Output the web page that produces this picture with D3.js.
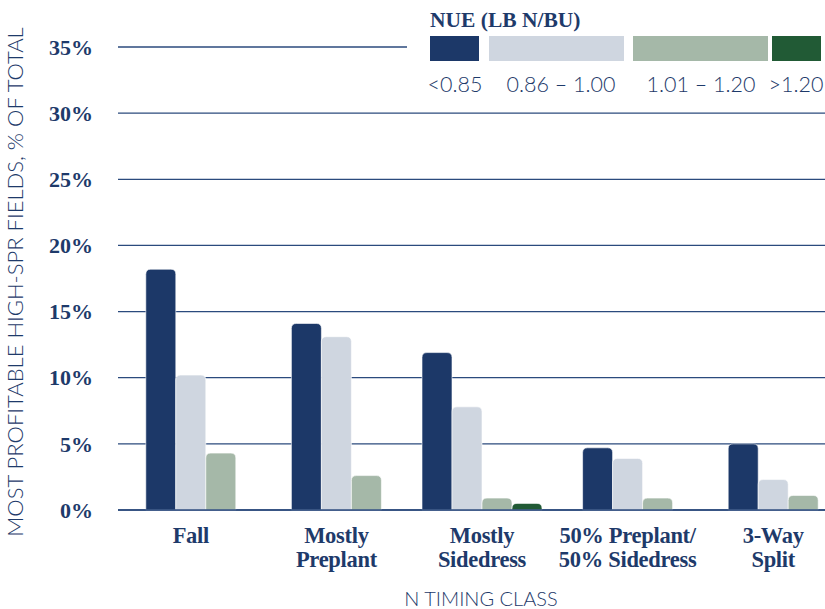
<!DOCTYPE html>
<html>
<head>
<meta charset="utf-8">
<script src="https://cdn.jsdelivr.net/npm/d3@7"></script>
<style>
    body { margin: 0; background: #fff; }
    svg { display: block; }
</style>
</head>
<body>
<div id="chart"></div>
<script>
// data
const categories = ["Fall", "Mostly Preplant", "Mostly Sidedress", "50% Preplant/ 50% Sidedress", "3-Way Split"];
const categoryLines = [["Fall"], ["Mostly", "Preplant"], ["Mostly", "Sidedress"], ["50% Preplant/", "50% Sidedress"], ["3-Way", "Split"]];
const seriesKeys = ["<0.85", "0.86 – 1.00", "1.01 – 1.20", ">1.20"];
const nueLow = [18.2, 14.1, 11.9, 4.7, 5.0];
const nueMid = [10.2, 13.1, 7.8, 3.9, 2.3];
const nueHigh = [4.3, 2.6, 0.9, 0.9, 1.1];
const nueVeryHigh = [null, null, 0.5, null, null];
const yTicks = [0, 5, 10, 15, 20, 25, 30, 35];

const seriesValues = [nueLow, nueMid, nueHigh, nueVeryHigh];
const colors = ["#1c3868", "#cfd6e0", "#a5b8a8", "#215a35"];
const textColor = "#1e3a6a";

const width = 825, height = 609;
const svg = d3.select("#chart").append("svg")
    .attr("width", width)
    .attr("height", height);

// scales
const x = d3.scaleBand()
    .domain(categories)
    .range([118, 846]);

const y = d3.scaleLinear()
    .domain([0, 35])
    .range([510, 47]);

const barWidth = 30;

// gridlines (top one is cut short by the legend)
svg.append("g").selectAll("line")
    .data(yTicks)
    .join("line")
    .attr("x1", 118)
    .attr("x2", d => d === 35 ? 407 : width)
    .attr("y1", d => y(d))
    .attr("y2", d => y(d))
    .attr("stroke", "#2b4a7d")
    .attr("stroke-width", 1.3);

// y tick labels
svg.append("g").selectAll("text")
    .data(yTicks)
    .join("text")
    .attr("x", 93)
    .attr("y", d => y(d))
    .attr("dy", "0.35em")
    .attr("text-anchor", "end")
    .attr("font-family", "Liberation Serif, serif")
    .attr("font-weight", "bold")
    .attr("font-size", 22)
    .attr("fill", textColor)
    .text(d => d + "%");

// build bar records, centring the bars that exist in each group
let bars = [];
categories.forEach((cat, i) => {
    let present = seriesKeys.filter((k, j) => seriesValues[j][i] !== null);
    let center = x(cat) + x.bandwidth() / 2;
    let inner = d3.scaleBand()
        .domain(present)
        .range([center - present.length * barWidth / 2, center + present.length * barWidth / 2]);
    present.forEach(k => {
        let j = seriesKeys.indexOf(k);
        bars.push({cat: cat, key: k, value: seriesValues[j][i], x: inner(k), w: inner.bandwidth(), color: colors[j]});
    });
});

function topRounded(x0, y0, w, h, r) {
    r = Math.min(r, h, w / 2);
    return "M" + x0 + "," + (y0 + h) +
        "V" + (y0 + r) +
        "Q" + x0 + "," + y0 + " " + (x0 + r) + "," + y0 +
        "H" + (x0 + w - r) +
        "Q" + (x0 + w) + "," + y0 + " " + (x0 + w) + "," + (y0 + r) +
        "V" + (y0 + h) + "Z";
}

svg.append("g").selectAll("path")
    .data(bars)
    .join("path")
    .attr("d", d => topRounded(d.x, y(d.value), d.w, y(0) - y(d.value), 5))
    .attr("fill", d => d.color)
    .attr("stroke", "#fff")
    .attr("stroke-width", 0.6);

// baseline drawn again on top
svg.append("line")
    .attr("x1", 118).attr("x2", width)
    .attr("y1", y(0)).attr("y2", y(0))
    .attr("stroke", "#2b4a7d")
    .attr("stroke-width", 1.5);

// category labels
let catLabels = svg.append("g").selectAll("text")
    .data(categories)
    .join("text")
    .attr("x", d => x(d) + x.bandwidth() / 2)
    .attr("y", 543)
    .attr("text-anchor", "middle")
    .attr("font-family", "Liberation Serif, serif")
    .attr("font-weight", "bold")
    .attr("font-size", 22.5)
    .attr("letter-spacing", -0.3)
    .attr("fill", textColor);

catLabels.selectAll("tspan")
    .data((d, i) => categoryLines[i])
    .join("tspan")
    .attr("x", function () { return d3.select(this.parentNode).attr("x"); })
    .attr("dy", (d, i) => i === 0 ? 0 : 24)
    .text(d => d);

// axis titles
svg.append("text")
    .attr("transform", "translate(23,282) rotate(-90)")
    .attr("text-anchor", "middle")
    .attr("font-family", "Lato, sans-serif")
    .attr("font-weight", 300)
    .attr("font-size", 22)
    .attr("fill", textColor)
    .text("MOST PROFITABLE HIGH-SPR FIELDS, % OF TOTAL");

svg.append("text")
    .attr("x", 481)
    .attr("y", 606)
    .attr("text-anchor", "middle")
    .attr("font-family", "Lato, sans-serif")
    .attr("font-weight", 300)
    .attr("font-size", 20)
    .attr("fill", textColor)
    .text("N TIMING CLASS");

// legend
const legendBoxes = [[430, 49], [489, 135], [633, 135], [772, 49]];
const legendLabelX = [455, 561, 701, 796];

let legend = svg.append("g");

legend.append("text")
    .attr("x", 430)
    .attr("y", 27)
    .attr("font-family", "Liberation Serif, serif")
    .attr("font-weight", "bold")
    .attr("font-size", 21.5)
    .attr("fill", textColor)
    .text("NUE (LB N/BU)");

legend.selectAll("rect")
    .data(seriesKeys)
    .join("rect")
    .attr("x", (d, i) => legendBoxes[i][0])
    .attr("y", 36)
    .attr("width", (d, i) => legendBoxes[i][1])
    .attr("height", 25)
    .attr("fill", (d, i) => colors[i]);

legend.selectAll("text.legend-label")
    .data(seriesKeys)
    .join("text")
    .attr("class", "legend-label")
    .attr("x", (d, i) => legendLabelX[i])
    .attr("y", 92)
    .attr("text-anchor", "middle")
    .attr("font-family", "Lato, sans-serif")
    .attr("font-weight", 300)
    .attr("font-size", 21.5)
    .attr("fill", textColor)
    .text(d => d);
</script>
</body>
</html>
